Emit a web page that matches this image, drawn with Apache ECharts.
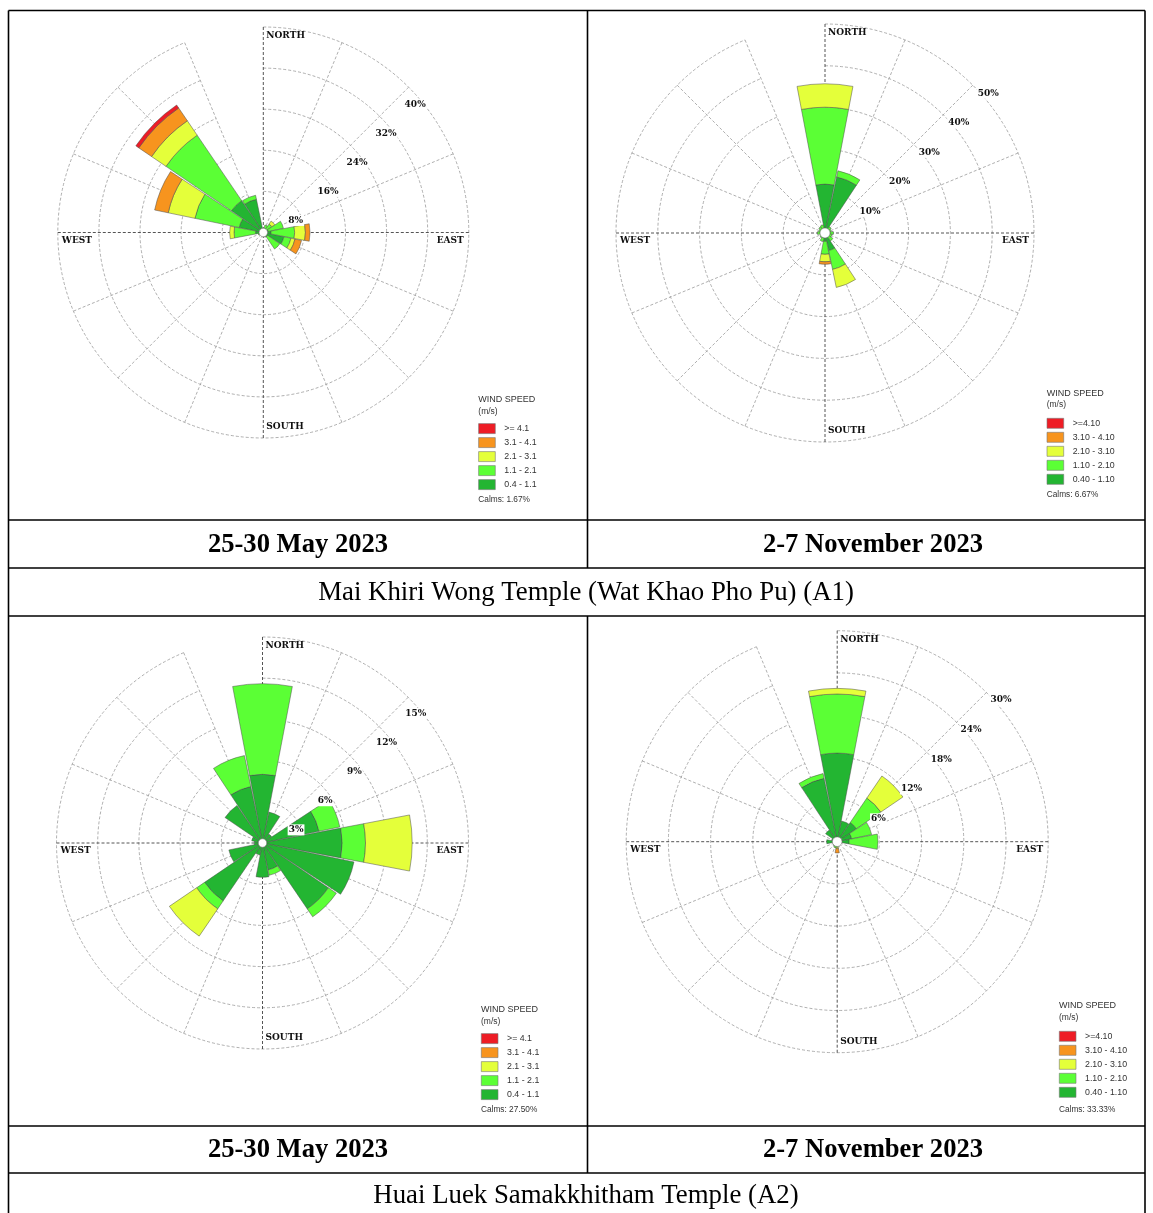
<!DOCTYPE html>
<html><head><meta charset="utf-8">
<script src="https://cdn.jsdelivr.net/npm/echarts@6/dist/echarts.min.js"></script>
<style>html,body{margin:0;padding:0;background:#fff}#c{width:1153px;height:1213px}</style>
</head><body><div id="c"></div>
<script>
// ---------------- DATA ----------------
const directions = ['N','NNE','NE','ENE','E','ESE','SE','SSE','S','SSW','SW','WSW','W','WNW','NW','NNW'];
const speedLabelsMay = ['>= 4.1','3.1 - 4.1','2.1 - 3.1','1.1 - 2.1','0.4 - 1.1'];   // red .. dark green
const speedLabelsNov = ['>=4.10','3.10 - 4.10','2.10 - 3.10','1.10 - 2.10','0.40 - 1.10'];
const dateLabels = ['25-30 May 2023','2-7 November 2023'];
const siteLabels = ['Mai Khiri Wong Temple (Wat Khao Pho Pu) (A1)','Huai Luek Samakkhitham Temple (A2)'];
const calms = [1.67, 6.67, 27.50, 33.33];

// Chart 1: A1, 25-30 May 2023 (percent of time)
const c1Ticks = [8,16,24,32,40];
const c1_dg  = [0.5,0.8,0.8,1.0,1.5,4.1,1.0,0.6,0.5,0.4,0.4,0.6,1.5,4.8,7.5,6.6];
const c1_lg  = [0,0.7,1.2,3.0,4.6,1.4,2.9,0.3,0,0,0,0.4,4.2,8.8,15.4,0.8];
const c1_yel = [0,0,0.7,0,2.1,0.8,0,0,0,0,0,0,0.85,5.3,3.4,0];
const c1_or  = [0,0,0,0,0.9,1.3,0,0,0,0,0,0,0,2.7,3.0,0];
const c1_red = [0,0,0,0,0,0,0,0,0,0,0,0,0,0,0.7,0];

// Chart 2: A1, 2-7 November 2023
const c2Ticks = [10,20,30,40,50];
const c2_dg  = [11.7,13.7,1.0,0.9,1.2,1.0,1.1,4.3,2.0,1.2,0.8,0.7,1.0,0.8,1.0,1.2];
const c2_lg  = [18.4,1.5,0.8,0.6,0.8,0.7,1.2,4.6,3.1,0.9,0.6,0.5,0.8,0.7,0.8,0.8];
const c2_yel = [5.6,0,0,0,0,0,0,4.4,1.8,0,0,0,0,0,0,0];
const c2_or  = [0,0,0,0,0,0,0,0,0.6,0,0,0,0,0,0,0];
const c2_red = [0,0,0,0,0,0,0,0,0,0,0,0,0,0,0,0];

// Chart 3: A2, 25-30 May 2023
const c3Ticks = [3,6,9,12,15];
const c3_dg  = [5.0,2.3,0.8,4.2,5.8,6.8,5.8,2.0,2.5,0.9,5.1,2.5,0.6,0.8,3.3,4.2];
const c3_lg  = [6.6,0,0,1.55,1.7,0,0.7,0.4,0,0,0.7,0,0,0,0,2.3];
const c3_yel = [0,0,0,0,3.4,0,0,0,0,0,2.4,0,0,0,0,0];
const c3_or  = [0,0,0,0,0,0,0,0,0,0,0,0,0,0,0,0];
const c3_red = [0,0,0,0,0,0,0,0,0,0,0,0,0,0,0,0];

// Chart 4: A2, 2-7 November 2023
const c4Ticks = [6,12,18,24,30];
const c4_dg  = [12.6,3.0,3.3,2.1,1.7,0.6,0.5,0.4,0.5,0.6,0.7,0.5,1.5,0.8,2.0,9.2];
const c4_lg  = [8.4,0,4.2,2.9,4.1,0,0,0,0.3,0.3,0,0,0,0,0,0.7];
const c4_yel = [0.8,0,3.8,0,0,0,0,0,0.2,0,0,0,0,0,0,0];
const c4_or  = [0,0,0,0,0,0,0,0,0.6,0,0,0,0,0,0,0];
const c4_red = [0,0,0,0,0,0,0,0,0,0,0,0,0,0,0,0];

// ---------------- STYLE / LAYOUT ----------------
const speedColors = ['#EE1C25','#F7941E','#E4FF3A','#5BFF35','#23B532']; // red..dark green
const serif = '"DejaVu Serif", serif';
const sans = '"Liberation Sans", Arial, sans-serif';

const layouts = [
  {cx:263.3, cy:232.5, R:205.5, lab:[-5,17], lg:{x:478.3, y:423.3, title:400, calm:500}, names:speedLabelsMay, hole:4.2},
  {cx:825.0, cy:233.0, R:209.0, lab:[4,8],   lg:{x:1046.7,y:418.0, title:393.3, calm:495}, names:speedLabelsNov, hole:5},
  {cx:262.5, cy:843.0, R:206.0, lab:[-4,16], lg:{x:481.0, y:1033.3, title:1010, calm:1110}, names:speedLabelsMay, hole:4.2},
  {cx:837.2, cy:841.7, R:211.0, lab:[3,7],   lg:{x:1059.0,y:1031.0, title:1005.7, calm:1110}, names:speedLabelsNov, hole:4.8}
];
const chartTicks = [c1Ticks, c2Ticks, c3Ticks, c4Ticks];
const chartData = [
  [c1_dg,c1_lg,c1_yel,c1_or,c1_red],
  [c2_dg,c2_lg,c2_yel,c2_or,c2_red],
  [c3_dg,c3_lg,c3_yel,c3_or,c3_red],
  [c4_dg,c4_lg,c4_yel,c4_or,c4_red]
];

const polar = [], angleAxis = [], radiusAxis = [], series = [], legend = [], graphic = [];

layouts.forEach((L, i) => {
  const ticks = chartTicks[i];
  const max = ticks[ticks.length - 1], step = ticks[0];
  // main polar
  polar.push({center:[L.cx, L.cy], radius:L.R});
  angleAxis.push({
    polarIndex: 2*i, type:'category', data:directions, boundaryGap:false,
    startAngle:90, clockwise:true,
    axisLine:{show:false}, axisTick:{show:false}, axisLabel:{show:false},
    splitLine:{show:true, lineStyle:{color:['#2a2a2a','#9a9a9a','#9a9a9a','#9a9a9a'], type:[3,2], width:0.8}}
  });
  radiusAxis.push({
    polarIndex: 2*i, type:'value', min:0, max:max, interval:step,
    axisLine:{show:false}, axisTick:{show:false}, axisLabel:{show:false},
    splitLine:{show:true, lineStyle:{color:'#9a9a9a', type:[3,2], width:0.8}}
  });
  // label polar (percent labels along the NE direction)
  polar.push({center:[L.cx + L.lab[0], L.cy + L.lab[1]], radius:L.R});
  angleAxis.push({
    polarIndex: 2*i+1, type:'value', min:0, max:360, startAngle:45,
    axisLine:{show:false}, axisTick:{show:false}, axisLabel:{show:false}, splitLine:{show:false}
  });
  radiusAxis.push({
    polarIndex: 2*i+1, type:'value', min:0, max:max, interval:step, z:10,
    axisLine:{show:false}, axisTick:{show:false}, splitLine:{show:false},
    axisLabel:{show:true, showMinLabel:false, margin:0, align:'left', verticalAlign:'middle',
      formatter: v => v + '%', fontFamily:serif, fontWeight:'bold', fontSize:9, color:'#111',
      backgroundColor:'#fff', padding:[1,1]}
  });
  // stacked bars: dark green (inner) -> red (outer)
  const data = chartData[i];
  for (let k = 0; k < 5; k++) {
    const colorIdx = 4 - k;
    series.push({
      type:'bar', coordinateSystem:'polar', polarIndex:2*i, stack:'s'+i,
      name:L.names[colorIdx], barCategoryGap:'4%',
      data:data[k].map(v => v > 0 ? v : null),
      itemStyle:{color:speedColors[colorIdx], borderColor:'#4a4a4a', borderWidth:0.5},
      silent:true, animation:false
    });
  }
  legend.push({
    orient:'vertical', left:L.lg.x, top:L.lg.y, padding:0, itemWidth:16.7, itemHeight:10, itemGap:3.4,
    icon:'rect', selectedMode:false, data:L.names.slice(),
    itemStyle:{borderWidth:0.6, borderColor:'#777'},
    textStyle:{fontFamily:sans, fontSize:8.8, color:'#333', lineHeight:10, padding:[0,0,0,4]}
  });
  // legend title & calms
  graphic.push({type:'text', style:{text:'WIND SPEED', x:L.lg.x, y:L.lg.title, font:'9px ' + sans, fill:'#333', verticalAlign:'middle'}});
  graphic.push({type:'text', style:{text:'(m/s)', x:L.lg.x, y:L.lg.title + 11.5, font:'8.5px ' + sans, fill:'#333', verticalAlign:'middle'}});
  graphic.push({type:'text', style:{text:'Calms: ' + calms[i].toFixed(2) + '%', x:L.lg.x, y:L.lg.calm, font:'8.3px ' + sans, fill:'#333', verticalAlign:'middle'}});
  // cardinal labels
  const cf = 'bold 9px ' + serif;
  graphic.push({type:'text', z:20, style:{text:'NORTH', x:L.cx + 3, y:L.cy - L.R + 9, font:cf, fill:'#111', align:'left', verticalAlign:'middle'}});
  graphic.push({type:'text', z:20, style:{text:'SOUTH', x:L.cx + 3, y:L.cy + L.R - 11.5, font:cf, fill:'#111', align:'left', verticalAlign:'middle'}});
  graphic.push({type:'text', z:20, style:{text:'WEST', x:L.cx - L.R + 4, y:L.cy + 8, font:cf, fill:'#111', align:'left', verticalAlign:'middle'}});
  graphic.push({type:'text', z:20, style:{text:'EAST', x:L.cx + L.R - 5, y:L.cy + 8, font:cf, fill:'#111', align:'right', verticalAlign:'middle'}});
  // center calm circle
  graphic.push({type:'circle', z:30, shape:{cx:L.cx, cy:L.cy, r:L.hole}, style:{fill:'#fff', stroke:'#777', lineWidth:0.5}});
});

// table frame
const T = {l:8.5, r:1145, t:10.5, b:1213, mid:587.5, rows:[520, 568, 616, 1126, 1173]};
const line = (x1,y1,x2,y2) => ({type:'line', z:40, shape:{x1,y1,x2,y2}, style:{stroke:'#000', lineWidth:1.6}});
graphic.push(line(T.l, T.t, T.r, T.t));
graphic.push(line(T.l, T.t, T.l, T.b));
graphic.push(line(T.r, T.t, T.r, T.b));
T.rows.forEach(y => graphic.push(line(T.l, y, T.r, y)));
graphic.push(line(T.mid, T.t, T.mid, T.rows[1]));
graphic.push(line(T.mid, T.rows[2], T.mid, T.rows[4]));

const tf = '"Liberation Serif", "Times New Roman", serif';
const dateRowsY = [(T.rows[0]+T.rows[1])/2, (T.rows[3]+T.rows[4])/2];
const siteRowsY = [(T.rows[1]+T.rows[2])/2, (T.rows[4]+T.b)/2 + 2];
const dateX = [(T.l+T.mid)/2, 873];
dateRowsY.forEach(y => {
  graphic.push({type:'text', style:{text:dateLabels[0], x:dateX[0], y:y+1, font:'bold 26.6px ' + tf, fill:'#000', align:'center', verticalAlign:'middle'}});
  graphic.push({type:'text', style:{text:dateLabels[1], x:dateX[1], y:y+1, font:'bold 26.6px ' + tf, fill:'#000', align:'center', verticalAlign:'middle'}});
});
siteRowsY.forEach((y, j) => {
  graphic.push({type:'text', style:{text:siteLabels[j], x:586, y:y+1, font:'26.8px ' + tf, fill:'#000', align:'center', verticalAlign:'middle'}});
});

const chart = echarts.init(document.getElementById('c'), null, {renderer:'canvas'});
chart.setOption({
  backgroundColor:'#fff', animation:false,
  polar, angleAxis, radiusAxis, series, legend, graphic
});
</script>
</body></html>
